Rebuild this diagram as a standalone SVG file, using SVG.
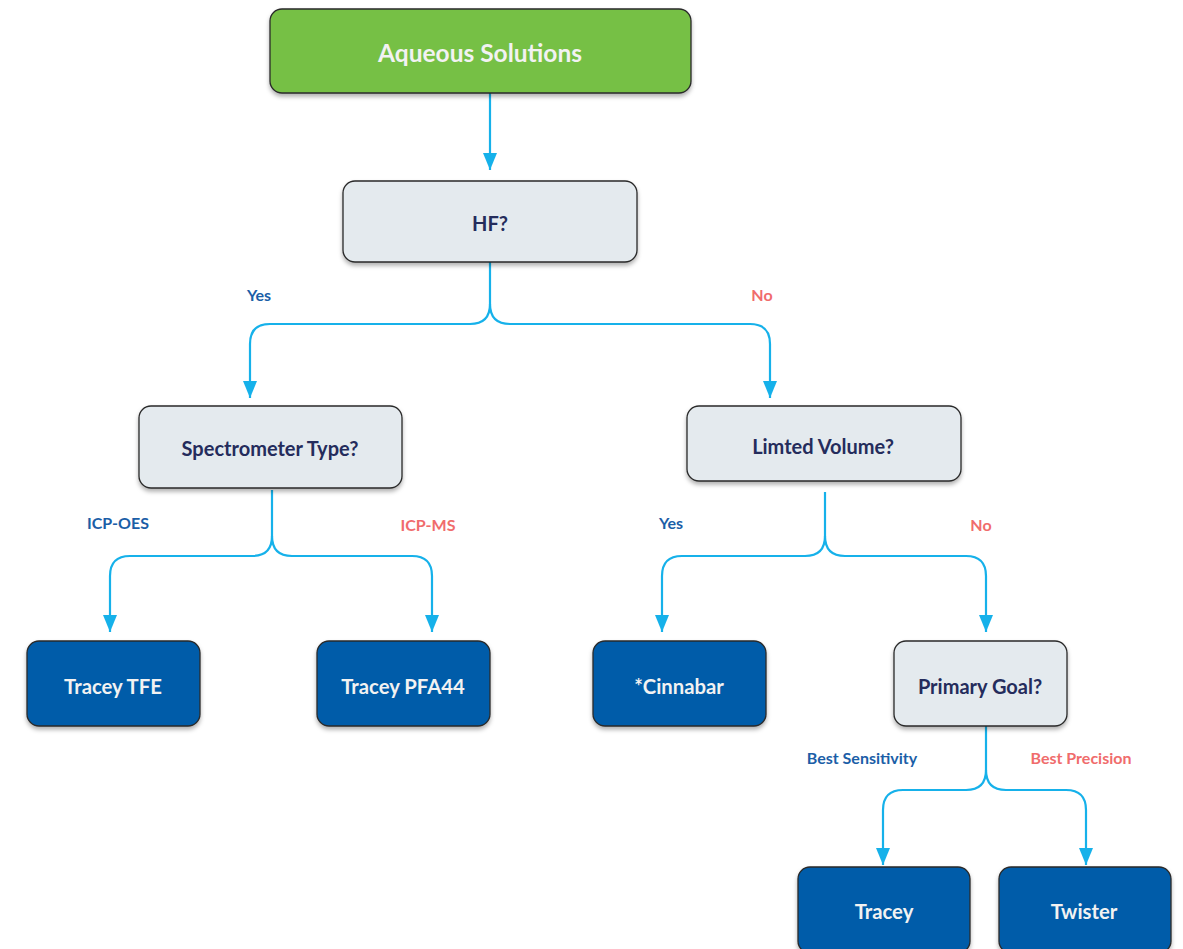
<svg xmlns="http://www.w3.org/2000/svg" width="1183" height="949" viewBox="0 0 1183 949">
<style>
.n{stroke:#2a2a2a;stroke-width:1.3;filter:url(#sh)}
.g{fill:#76c045}
.q{fill:#e4eaee}
.d{fill:#005ca9}
.t{font-family:Lato,"Liberation Sans",sans-serif;font-weight:bold;text-anchor:middle;dominant-baseline:central}
.tw{fill:#f2f2f2;font-size:20.3px}
.tq{fill:#242c5c;font-size:20px}
.lb{font-family:Lato,"Liberation Sans",sans-serif;font-weight:bold;font-size:16px;text-anchor:middle;dominant-baseline:central}
.b{fill:#1b5ea7}
.r{fill:#f06c6c}
.c{fill:none;stroke:#16b1ea;stroke-width:2.2;marker-end:url(#ah)}
</style>
<defs>
<filter id="sh" x="-10%" y="-10%" width="120%" height="140%">
<feDropShadow dx="0" dy="3" stdDeviation="2" flood-color="#000" flood-opacity="0.3"/>
</filter>
<marker id="ah" markerUnits="userSpaceOnUse" markerWidth="16" markerHeight="18" viewBox="0 0 16 18" refX="8" refY="17" orient="0">
<path d="M1,0 L15,0 L8,17 Z" fill="#16b1ea"/>
</marker>
</defs>
<g id="connectors">
<path class="c" d="M490,93 V170"/>
<path class="c" d="M490,262 V304 Q490,324 470,324 H270 Q250,324 250,344 V398"/>
<path class="c" d="M490,304 Q490,324 510,324 H750 Q770,324 770,344 V398"/>
<path class="c" d="M272,490 V536 Q272,556 252,556 H130 Q110,556 110,576 V632"/>
<path class="c" d="M272,536 Q272,556 292,556 H412 Q432,556 432,576 V632"/>
<path class="c" d="M825,492 V536 Q825,556 805,556 H682 Q662,556 662,576 V632"/>
<path class="c" d="M825,536 Q825,556 845,556 H966 Q986,556 986,576 V632"/>
<path class="c" d="M986,726 V770 Q986,790 966,790 H903 Q883,790 883,810 V865"/>
<path class="c" d="M986,770 Q986,790 1006,790 H1066 Q1086,790 1086,810 V865"/>
<text class="lb b" x="259" y="294">Yes</text>
<text class="lb r" x="762" y="294">No</text>
<text class="lb b" x="118" y="522">ICP-OES</text>
<text class="lb r" x="428" y="524">ICP-MS</text>
<text class="lb b" x="671" y="522">Yes</text>
<text class="lb r" x="981" y="524">No</text>
<text class="lb b" x="862" y="757">Best Sensitivity</text>
<text class="lb r" x="1081" y="757">Best Precision</text>
</g>
<g id="aqueous">
<rect class="n g" x="270" y="9" width="421" height="84" rx="12"/>
<text class="t tw" x="480" y="52" style="font-size:24.5px">Aqueous Solutions</text>
</g>
<g id="hf">
<rect class="n q" x="343" y="181" width="294" height="81" rx="12"/>
<text class="t tq" x="490" y="223">HF?</text>
</g>
<g id="spectrometer">
<rect class="n q" x="139" y="406" width="263" height="82" rx="12"/>
<text class="t tq" x="270" y="448">Spectrometer Type?</text>
</g>
<g id="volume">
<rect class="n q" x="687" y="406" width="274" height="75" rx="12"/>
<text class="t tq" x="823" y="446">Limted Volume?</text>
</g>
<g id="traceytfe">
<rect class="n d" x="27" y="641" width="173" height="85" rx="12"/>
<text class="t tw" x="113" y="686">Tracey TFE</text>
</g>
<g id="traceypfa44">
<rect class="n d" x="317" y="641" width="173" height="85" rx="12"/>
<text class="t tw" x="403" y="686">Tracey PFA44</text>
</g>
<g id="cinnabar">
<rect class="n d" x="593" y="641" width="173" height="85" rx="12"/>
<text class="t tw" x="679" y="686">*Cinnabar</text>
</g>
<g id="goal">
<rect class="n q" x="894" y="641" width="173" height="85" rx="12"/>
<text class="t tq" x="980" y="686">Primary Goal?</text>
</g>
<g id="tracey">
<rect class="n d" x="798" y="867" width="172" height="86" rx="12"/>
<text class="t tw" x="884" y="911">Tracey</text>
</g>
<g id="twister">
<rect class="n d" x="999" y="867" width="172" height="86" rx="12"/>
<text class="t tw" x="1084" y="911">Twister</text>
</g>
</svg>
